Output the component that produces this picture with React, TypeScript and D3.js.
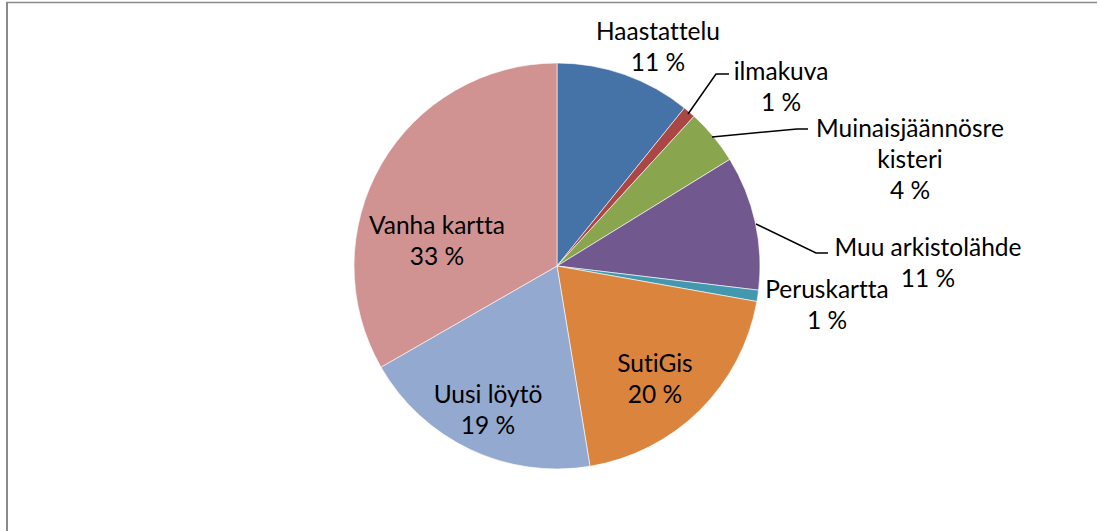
import React from "react";
import * as d3 from "d3";

const categories = [
  "Haastattelu",
  "ilmakuva",
  "Muinaisjäännösrekisteri",
  "Muu arkistolähde",
  "Peruskartta",
  "SutiGis",
  "Uusi löytö",
  "Vanha kartta",
];
const values = [10.8, 1.0, 4.4, 10.7, 0.9, 19.6, 19.3, 33.3];
const percentLabels = ["11 %", "1 %", "4 %", "11 %", "1 %", "20 %", "19 %", "33 %"];
const colors = ["#4572A7", "#AA4643", "#89A54E", "#71588F", "#4198AF", "#DB843D", "#93A9CF", "#D19392"];

// label layout: lines of name, anchor center, leader line points
const labelLayout: { lines: string[]; x: number; y: number; leader?: [number, number][] }[] = [
  { lines: ["Haastattelu"], x: 658, y: 30 },
  { lines: ["ilmakuva"], x: 781, y: 70, leader: [[688, 114], [716, 74], [729, 74]] },
  { lines: ["Muinaisjäännösre", "kisteri"], x: 910, y: 127, leader: [[712, 137], [797, 129], [808, 129]] },
  { lines: ["Muu arkistolähde"], x: 928, y: 246, leader: [[756, 224], [816, 253], [828, 253]] },
  { lines: ["Peruskartta"], x: 827, y: 288 },
  { lines: ["SutiGis"], x: 655, y: 362 },
  { lines: ["Uusi löytö"], x: 488, y: 393 },
  { lines: ["Vanha kartta"], x: 437, y: 224 },
];

const W = 1099;
const H = 531;
const cx = 557;
const cy = 266;
const R = 203;
const lineH = 31;

export default function App() {
  const pie = d3.pie<number>().sort(null).value((d) => d);
  const arcs = pie(values);
  const arc = d3.arc<d3.PieArcDatum<number>>().innerRadius(0).outerRadius(R);
  const line = d3.line();

  return (
    <svg
      width={W}
      height={H}
      style={{ position: "absolute", left: 0, top: 0, background: "#fff", fontVariantLigatures: "none" }}
      fontFamily="Lato, 'Open Sans', sans-serif"
    >
      <rect x={0} y={0} width={W} height={H} fill="#fff" />
      <line x1={6} y1={2.5} x2={1097} y2={2.5} stroke="#8a8a8a" strokeWidth={1.5} />
      <line x1={7} y1={2} x2={7} y2={H} stroke="#8a8a8a" strokeWidth={2} />
      <g transform={`translate(${cx},${cy})`}>
        {arcs.map((a, i) => (
          <path key={categories[i]} d={arc(a) || ""} fill={colors[i]} stroke="#fff" strokeWidth={0.6} />
        ))}
      </g>
      {labelLayout.map((l, i) => (
        <g key={categories[i]}>
          {l.leader && <path d={line(l.leader) || ""} fill="none" stroke="#000" strokeWidth={1.5} />}
          <text textAnchor="middle" fontSize={24.5} fill="#000" dominantBaseline="central">
            {[...l.lines, percentLabels[i]].map((t, j) => (
              <tspan key={j} x={l.x} y={l.y + j * lineH}>
                {t}
              </tspan>
            ))}
          </text>
        </g>
      ))}
    </svg>
  );
}
